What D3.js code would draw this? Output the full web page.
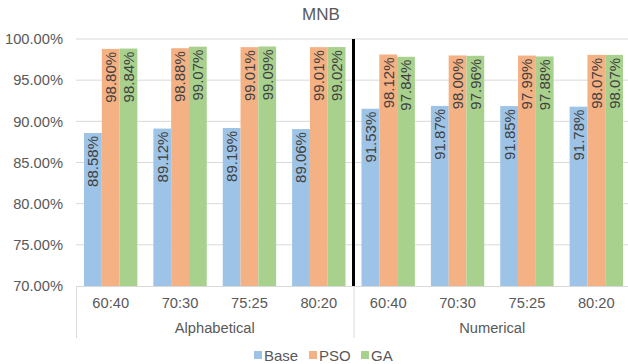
<!DOCTYPE html>
<html><head><meta charset="utf-8">
<script src="https://cdn.jsdelivr.net/npm/d3@7"></script>
<style>body{margin:0;background:#fff}svg{display:block}</style>
</head><body>
<svg id="c" width="628" height="364"></svg>
<script>
const groups = ["Alphabetical", "Numerical"];
const splits = ["60:40", "70:30", "75:25", "80:20"];
const series = ["Base", "PSO", "GA"];
const colors = ["#9DC3E6", "#F4B183", "#A9D18E"];
const baseVals = [88.58, 89.12, 89.19, 89.06, 91.53, 91.87, 91.85, 91.78];
const psoVals = [98.80, 98.88, 99.01, 99.01, 98.12, 98.00, 97.99, 98.07];
const gaVals = [98.84, 99.07, 99.09, 99.02, 97.84, 97.96, 97.88, 98.07];
const yTicks = [70, 75, 80, 85, 90, 95, 100];

const svg = d3.select("#c");
const font = "'Liberation Sans', Arial, sans-serif";
const L = 76, R = 631, T = 39, B = 286;
const cats = [];
groups.forEach(g => splits.forEach(s => cats.push(g + "|" + s)));
const vals = [baseVals, psoVals, gaVals];

const x = d3.scaleBand().domain(cats).range([L, R]).paddingInner(0.2306).paddingOuter(0.1153);
const xs = d3.scaleBand().domain(series).range([0, x.bandwidth()]);
const y = d3.scaleLinear().domain([70, 100]).range([B, T]);

// gridlines
svg.append("g").selectAll("line").data(yTicks.slice(1)).join("line")
  .attr("x1", L).attr("x2", 628).attr("y1", d => y(d)).attr("y2", d => y(d))
  .attr("stroke", "#D9D9D9").attr("stroke-width", 1);

// y labels
const yAxis = d3.axisLeft(y).tickValues(yTicks).tickFormat(d => d.toFixed(2) + "%").tickSize(0).tickPadding(13);
const ya = svg.append("g").attr("transform", `translate(${L},0)`).call(yAxis);
ya.select(".domain").remove();
ya.selectAll("text").attr("font-family", font).attr("font-size", "14.7px").attr("fill", "#595959");

// bars
const gg = svg.append("g");
cats.forEach((c, i) => {
  series.forEach((s, k) => {
    const v = vals[k][i];
    const bx = x(c) + xs(s), bw = xs.bandwidth();
    gg.append("rect").attr("x", bx).attr("y", y(v)).attr("width", bw).attr("height", B - y(v)).attr("fill", colors[k]);
    gg.append("text")
      .attr("transform", `translate(${bx + bw / 2},${y(v) + 3}) rotate(-90)`)
      .attr("text-anchor", "end").attr("dy", "0.36em")
      .attr("font-family", font).attr("font-size", "15px").attr("fill", "#404040")
      .text(v.toFixed(2) + "%");
  });
});

// x axis line
svg.append("line").attr("x1", L).attr("x2", 628).attr("y1", B + 0.5).attr("y2", B + 0.5).attr("stroke", "#D9D9D9");
// separators
const mid = x(cats[4]) - x.step() * x.paddingInner() / 2;
[L, mid].forEach(px => svg.append("line").attr("x1", px + 0.5).attr("x2", px + 0.5).attr("y1", B).attr("y2", 338).attr("stroke", "#D9D9D9"));
// thick divider
svg.append("line").attr("x1", mid).attr("x2", mid).attr("y1", T).attr("y2", B).attr("stroke", "#000").attr("stroke-width", 3);

// category tick labels
svg.append("g").selectAll("text").data(cats).join("text")
  .attr("x", d => x(d) + x.bandwidth() / 2).attr("y", 308)
  .attr("text-anchor", "middle").attr("font-family", font).attr("font-size", "14.7px").attr("fill", "#595959")
  .text(d => d.split("|")[1]);
// group labels
const gx = [(L + mid) / 2, (mid + R) / 2];
svg.append("g").selectAll("text").data(groups).join("text")
  .attr("x", (d, i) => gx[i]).attr("y", 333)
  .attr("text-anchor", "middle").attr("font-family", font).attr("font-size", "14.7px").attr("fill", "#595959")
  .text(d => d);

// title
svg.append("text").attr("x", 321).attr("y", 20).attr("text-anchor", "middle")
  .attr("font-family", font).attr("font-size", "17px").attr("fill", "#595959").text("MNB");

// legend
const lx = [254, 309, 361];
series.forEach((s, k) => {
  svg.append("rect").attr("x", lx[k]).attr("y", 351).attr("width", 8).attr("height", 8).attr("fill", colors[k]);
  svg.append("text").attr("x", lx[k] + 10).attr("y", 360.5).attr("font-family", font).attr("font-size", "15px").attr("fill", "#595959").text(s);
});
</script>
</body></html>
